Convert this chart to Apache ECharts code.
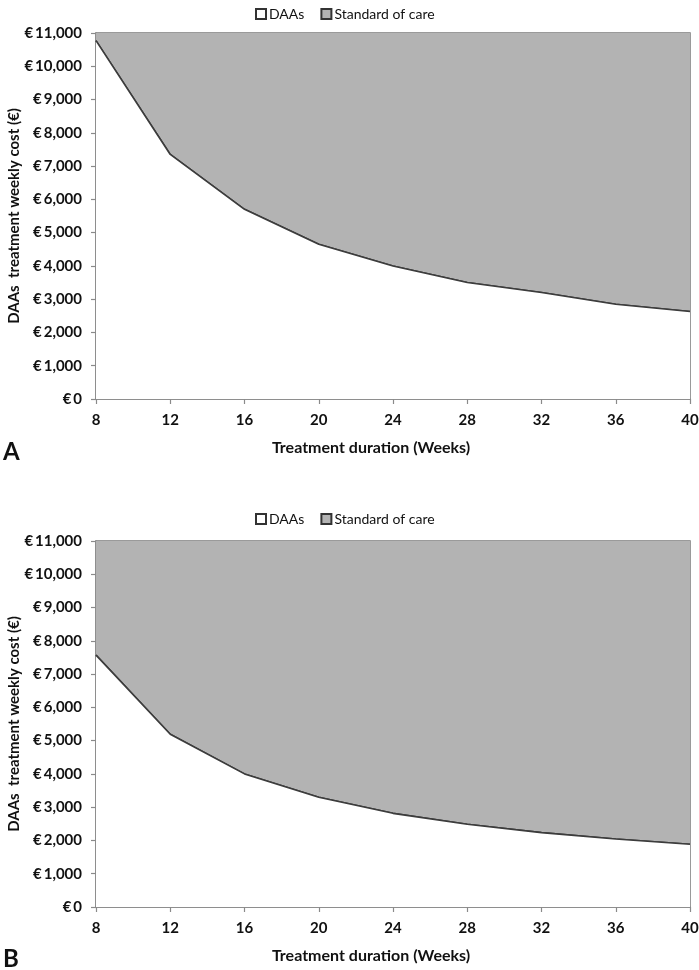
<!DOCTYPE html>
<html>
<head>
<meta charset="utf-8">
<script src="https://cdn.jsdelivr.net/npm/echarts@6/dist/echarts.min.js"></script>
<style>
html,body{margin:0;padding:0;background:#fff;}
#chart{width:699px;height:970px;}
</style>
</head>
<body>
<div id="chart"></div>
<script>
// ---- data ----
var weeks = [8, 12, 16, 20, 24, 28, 32, 36, 40];
var costA = [10770, 7350, 5700, 4650, 4000, 3500, 3200, 2850, 2630];
var costB = [7570, 5190, 4000, 3300, 2815, 2485, 2235, 2045, 1885];
var seriesNames = ['DAAs', 'Standard of care'];
var panelLabels = ['A', 'B'];
var yAxisTitle = 'DAAs  treatment weekly cost (\u20ac)';
var xAxisTitle = 'Treatment duration (Weeks)';
var yMax = 11000;

// ---- chart ----
var FONT = 'Lato';
var chart = echarts.init(document.getElementById('chart'), null, {renderer: 'canvas'});

function pairs(vals) { return weeks.map(function (w, i) { return [w, vals[i]]; }); }

var grids = [
  {left: 96, right: 9, top: 33, height: 366},
  {left: 96, right: 9, top: 541, height: 366}
];
grids.forEach(function (g) {
  g.show = true; g.borderColor = '#7a7a7a'; g.borderWidth = 1.5; g.backgroundColor = '#fff';
  g.containLabel = false; g.outerBoundsMode = 'none';
});

function xAxis(i) {
  return {
    type: 'value', gridIndex: i, min: 8, max: 40, interval: 4,
    name: xAxisTitle, nameLocation: 'middle', nameGap: 41, nameMoveOverlap: false,
    nameTextStyle: {fontFamily: FONT, fontWeight: 'bold', fontSize: 16, color: '#111', padding: [0, 44, 0, 0]},
    axisLine: {lineStyle: {color: '#8a8a8a', width: 1.5}},
    axisTick: {show: true, length: 5, lineStyle: {color: '#8a8a8a', width: 1.2}},
    axisLabel: {fontFamily: FONT, fontWeight: 'bold', fontSize: 15, color: '#111', margin: 14},
    splitLine: {show: false}
  };
}
function yAxis(i) {
  return {
    type: 'value', gridIndex: i, min: 0, max: yMax, interval: 1000,
    name: yAxisTitle, nameLocation: 'middle', nameGap: 74, nameMoveOverlap: false,
    nameTextStyle: {fontFamily: FONT, fontWeight: 'bold', fontSize: 15, color: '#111'},
    axisLine: {show: true, lineStyle: {color: '#8a8a8a', width: 1.5}},
    axisTick: {show: true, length: 5, lineStyle: {color: '#8a8a8a', width: 1.2}},
    axisLabel: {
      fontFamily: FONT, fontWeight: 'bold', fontSize: 15, color: '#111', margin: 14,
      formatter: function (v) { return '\u20ac\u2009' + v.toLocaleString('en-US'); }
    },
    splitLine: {show: false}
  };
}

function panelSeries(i, vals) {
  return [
    {
      name: seriesNames[0], type: 'line', xAxisIndex: i, yAxisIndex: i,
      data: pairs(vals), symbol: 'none', silent: true,
      lineStyle: {color: '#3c3c3c', width: 1.6},
      itemStyle: {color: '#ffffff', borderColor: '#333', borderWidth: 1},
      areaStyle: {color: '#ffffff', opacity: 1, origin: 'start'},
      z: 3
    },
    {
      name: seriesNames[1], type: 'line', xAxisIndex: i, yAxisIndex: i,
      data: pairs(vals), symbol: 'none', silent: true,
      lineStyle: {color: '#3c3c3c', width: 1.6},
      itemStyle: {color: '#b3b3b3', borderColor: '#333', borderWidth: 1},
      areaStyle: {color: '#b3b3b3', opacity: 1, origin: 'end'},
      z: 2
    }
  ];
}

function legend(top) {
  return {
    top: top, left: 250, itemWidth: 10, itemHeight: 10, itemGap: 16,
    icon: 'rect', selectedMode: false,
    textStyle: {fontFamily: FONT, fontSize: 14, color: '#111', padding: [0, 0, 0, -2]},
    data: seriesNames
  };
}

chart.setOption({
  animation: false,
  backgroundColor: '#fff',
  grid: grids,
  xAxis: [xAxis(0), xAxis(1)],
  yAxis: [yAxis(0), yAxis(1)],
  legend: [legend(2), legend(507)],
  series: panelSeries(0, costA).concat(panelSeries(1, costB)),
  graphic: [
    {type: 'text', left: 3, top: 440, style: {text: panelLabels[0], font: 'bold 24px Lato', fill: '#111'}},
    {type: 'text', left: 3, top: 947, style: {text: panelLabels[1], font: 'bold 24px Lato', fill: '#111'}}
  ]
});
</script>
</body>
</html>
